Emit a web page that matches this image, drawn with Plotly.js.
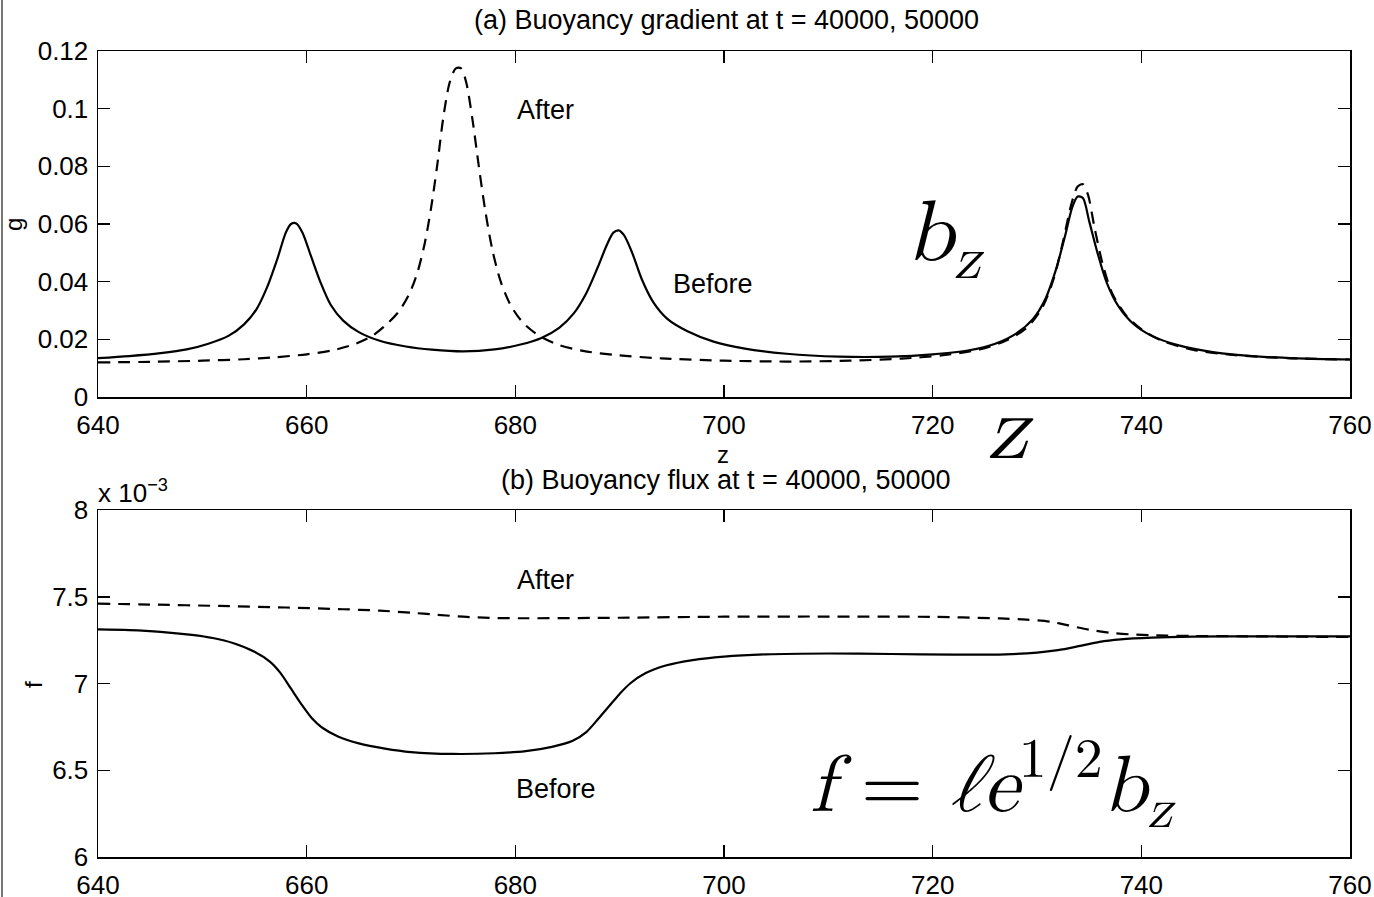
<!DOCTYPE html>
<html>
<head>
<meta charset="utf-8">
<script src="https://cdn.plot.ly/plotly-3.0.1.min.js"></script>
<style>html,body{margin:0;padding:0;background:#fff;}#plot{width:1374px;height:897px;}</style>
</head>
<body>
<div id="plot"></div>
<script>
// ---- Data: (a) buoyancy gradient g vs z ----
var zGradBefore = [640,643,646,648.5,650.5,652.5,654,655.2,656.2,657.2,658,658.5,659,659.6,660.4,661.3,662.3,663.5,665,667,669.5,672,675,678,680.5,682.5,684.2,685.6,686.8,687.9,688.8,689.4,689.9,690.4,691.2,692.1,693.2,694.6,696.5,699,702,706,711,716,720,723.5,726,728,729.6,730.8,731.8,732.7,733.4,733.9,734.4,735,735.8,736.7,737.8,739.2,741,743.5,747,751,755,760];
var gBefore = [0.0135,0.0142,0.0152,0.0165,0.0184,0.0212,0.0252,0.0305,0.0380,0.0480,0.0570,0.0600,0.0602,0.0570,0.0490,0.0400,0.0320,0.0265,0.0225,0.0195,0.0175,0.0164,0.0158,0.0165,0.0182,0.0205,0.0240,0.0290,0.0360,0.0450,0.0530,0.0570,0.0578,0.0562,0.0500,0.0410,0.0330,0.0270,0.0228,0.0192,0.0168,0.0150,0.0140,0.0140,0.0148,0.0162,0.0185,0.0220,0.0270,0.0340,0.0440,0.0560,0.0660,0.0695,0.0690,0.0610,0.0500,0.0395,0.0315,0.0255,0.0212,0.0180,0.0155,0.0141,0.0134,0.0130];

var zGradAfter = [640,645,650,654,657,660,662.5,664.5,666.2,667.6,668.8,669.8,670.6,671.3,671.9,672.5,673.1,673.7,674.3,674.8,675.3,675.9,676.5,677.1,677.8,678.6,679.6,680.8,682.3,684.2,686.5,689.5,694,700,706,712,717,721,724.5,727,729,730.5,731.6,732.5,733.3,733.9,734.4,734.9,735.5,736.3,737.2,738.5,740,742,745,749,754,760];
var gAfter = [0.0120,0.0122,0.0126,0.0131,0.0138,0.0148,0.0162,0.0182,0.0210,0.0250,0.0295,0.0355,0.0430,0.0530,0.0650,0.0800,0.0970,0.1090,0.1140,0.1140,0.1090,0.0960,0.0800,0.0650,0.0510,0.0400,0.0315,0.0255,0.0212,0.0180,0.0160,0.0146,0.0134,0.0126,0.0123,0.0126,0.0133,0.0145,0.0165,0.0195,0.0240,0.0310,0.0410,0.0540,0.0670,0.0730,0.0738,0.0700,0.0590,0.0460,0.0360,0.0285,0.0235,0.0195,0.0163,0.0145,0.0135,0.0130];

// ---- Data: (b) buoyancy flux f (x 10^-3) vs z ----
var zFluxBefore = [640,643,646,649,651,653,655,656.5,657.5,658.5,659.5,660.5,661.5,663,665,667.5,670,674,678,681,683.5,685.5,686.8,688,689,690,691,692.5,694.5,697,700,704,710,716,722,727,730,732,734,736,738,741,745,750,760];
var fBefore = [7.312,7.308,7.298,7.280,7.262,7.232,7.183,7.125,7.060,6.970,6.880,6.800,6.745,6.695,6.655,6.625,6.605,6.594,6.598,6.610,6.635,6.670,6.720,6.800,6.870,6.940,7.000,7.060,7.105,7.135,7.155,7.168,7.173,7.170,7.166,7.168,7.178,7.192,7.215,7.240,7.254,7.264,7.270,7.272,7.272];

var zFluxAfter = [640,645,651.7,658,663.5,667,670,672.5,675,677.5,681,690,700,710,720,726.5,729,731.3,733,735,737,739,741,745,750,760];
var fAfter = [7.460,7.455,7.447,7.438,7.428,7.420,7.408,7.396,7.385,7.378,7.376,7.379,7.385,7.386,7.384,7.375,7.368,7.356,7.335,7.310,7.292,7.283,7.278,7.274,7.272,7.268];

// ---- Tick labels ----
var xTicks = [640,660,680,700,720,740,760];
var xTickText = ["640","660","680","700","720","740","760"];
var gTicks = [0,0.02,0.04,0.06,0.08,0.1,0.12];
var gTickText = ["0","0.02","0.04","0.06","0.08","0.1","0.12"];
var fTicks = [6,6.5,7,7.5,8];
var fTickText = ["6","6.5","7","7.5","8"];

// ---- Text ----
var titleA = "(a) Buoyancy gradient at t = 40000, 50000";
var titleB = "(b) Buoyancy flux at t = 40000, 50000";

// ---- Layout geometry (pixels) ----
var W = 1374, H = 897;
var L = 98, R = 1350, T = 51, B = 857;
function px(x){ return (x - L) / (R - L); }
function py(y){ return (B - y) / (B - T); }

var sans = "Liberation Sans, Arial, Helvetica, sans-serif";
var serif = "Latin Modern Math, DejaVu Serif, Liberation Serif, serif";

var lineStyle = {color:"#000", width:2.2};
var traces = [
  {x:zGradBefore, y:gBefore, xaxis:"x", yaxis:"y", mode:"lines", line:Object.assign({shape:"spline", smoothing:0.8}, lineStyle), hoverinfo:"skip"},
  {x:zGradAfter, y:gAfter, xaxis:"x", yaxis:"y", mode:"lines", line:Object.assign({shape:"spline", smoothing:0.8, dash:"12px,8px"}, lineStyle), hoverinfo:"skip"},
  {x:zFluxBefore, y:fBefore, xaxis:"x2", yaxis:"y2", mode:"lines", line:Object.assign({shape:"spline", smoothing:0.8}, lineStyle), hoverinfo:"skip"},
  {x:zFluxAfter, y:fAfter, xaxis:"x2", yaxis:"y2", mode:"lines", line:Object.assign({shape:"spline", smoothing:0.8, dash:"12px,8px"}, lineStyle), hoverinfo:"skip"}
];

function axisCommon(){
  return {
    showline:true, linecolor:"#000", linewidth:1.5, mirror:"ticks",
    ticks:"inside", ticklen:12, tickwidth:1.5, tickcolor:"#000",
    showgrid:false, zeroline:false,
    tickfont:{family:sans, size:26, color:"#000"}
  };
}
var yDivTop = py(397), yDivBot = py(510);

var layout = {
  width:W, height:H,
  margin:{l:L, r:W-R, t:T, b:H-B, pad:0},
  paper_bgcolor:"#fff", plot_bgcolor:"#fff",
  showlegend:false,
  xaxis:Object.assign(axisCommon(), {domain:[0,1], anchor:"y", range:[640,760], tickvals:xTicks, ticktext:xTickText, ticklabelstandoff:4}),
  yaxis:Object.assign(axisCommon(), {domain:[yDivTop,1], anchor:"x", range:[0,0.12], tickvals:gTicks, ticktext:gTickText, ticklabelstandoff:3}),
  xaxis2:Object.assign(axisCommon(), {domain:[0,1], anchor:"y2", range:[640,760], tickvals:xTicks, ticktext:xTickText, ticklabelstandoff:4}),
  yaxis2:Object.assign(axisCommon(), {domain:[0,yDivBot], anchor:"x2", range:[6,8], tickvals:fTicks, ticktext:fTickText, ticklabelstandoff:3}),
  shapes:[
    {type:"line", xref:"paper", yref:"paper", x0:px(2), x1:px(2), y0:py(0), y1:py(897), line:{color:"#777", width:2}}
  ],
  annotations:[
    {text:titleA, xref:"paper", yref:"paper", x:px(726), y:py(20), showarrow:false, font:{family:sans, size:27, color:"#000"}, xanchor:"center", yanchor:"middle"},
    {text:titleB, xref:"paper", yref:"paper", x:px(726), y:py(480), showarrow:false, font:{family:sans, size:27, color:"#000"}, xanchor:"center", yanchor:"middle"},
    {text:"z", xref:"paper", yref:"paper", x:px(723), y:py(454), showarrow:false, font:{family:sans, size:24, color:"#000"}, xanchor:"center", yanchor:"middle"},
    {text:"g", xref:"paper", yref:"paper", x:px(13), y:py(225), showarrow:false, textangle:-90, font:{family:sans, size:24, color:"#000"}, xanchor:"center", yanchor:"middle"},
    {text:"f", xref:"paper", yref:"paper", x:px(33), y:py(685), showarrow:false, textangle:-90, font:{family:sans, size:24, color:"#000"}, xanchor:"center", yanchor:"middle"},
    {text:"x 10<sup>−3</sup>", xref:"paper", yref:"paper", x:px(96), y:py(491), showarrow:false, font:{family:sans, size:26, color:"#000"}, xanchor:"left", yanchor:"middle"},
    {text:"After", xref:"paper", yref:"paper", x:px(545), y:py(110), showarrow:false, font:{family:sans, size:27, color:"#000"}, xanchor:"center", yanchor:"middle"},
    {text:"Before", xref:"paper", yref:"paper", x:px(713), y:py(284), showarrow:false, font:{family:sans, size:27, color:"#000"}, xanchor:"center", yanchor:"middle"},
    {text:"After", xref:"paper", yref:"paper", x:px(545), y:py(580), showarrow:false, font:{family:sans, size:27, color:"#000"}, xanchor:"center", yanchor:"middle"},
    {text:"Before", xref:"paper", yref:"paper", x:px(556), y:py(789), showarrow:false, font:{family:sans, size:27, color:"#000"}, xanchor:"center", yanchor:"middle"},
    {text:"<i>b</i><sub><i>z</i></sub>", xref:"paper", yref:"paper", x:px(945), y:py(240), showarrow:false, font:{family:serif, size:86, color:"#000"}, xanchor:"center", yanchor:"middle"},
    {text:"<i>z</i>", xref:"paper", yref:"paper", x:px(1010), y:py(430), showarrow:false, font:{family:serif, size:92, color:"#000"}, xanchor:"center", yanchor:"middle"},
    {text:"<i>f</i> = <i>ℓe</i><sup>1/2</sup><i>b</i><sub><i>z</i></sub>", xref:"paper", yref:"paper", x:px(993), y:py(785), showarrow:false, font:{family:serif, size:80, color:"#000"}, xanchor:"center", yanchor:"middle"}
  ]
};

Plotly.newPlot("plot", traces, layout, {staticPlot:true, displayModeBar:false});
</script>
</body>
</html>
